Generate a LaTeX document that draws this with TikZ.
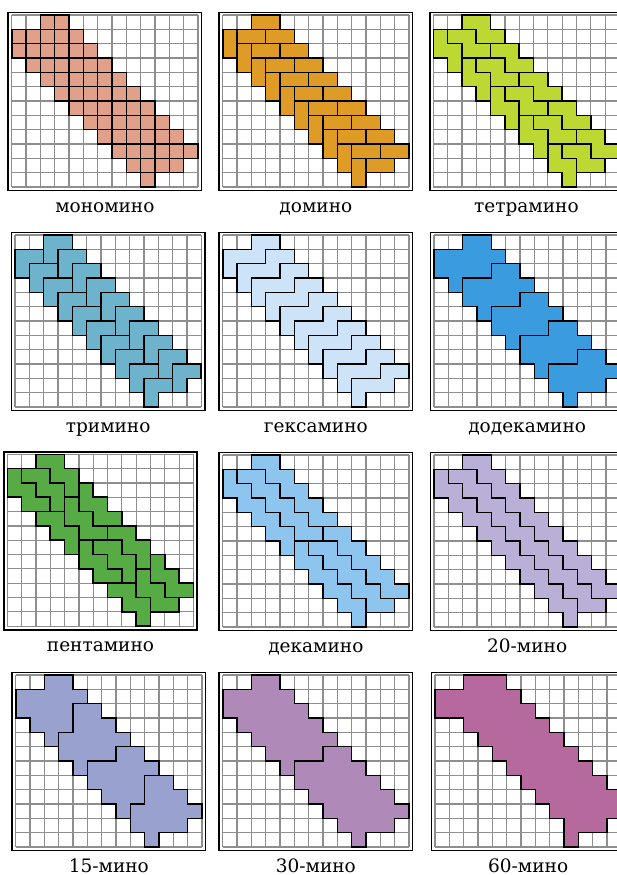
\documentclass[tikz,border=0pt]{standalone}
\usepackage{fontspec}
\setmainfont{DejaVu Serif}

\definecolor{gridgray}{HTML}{8E8E8E}
\definecolor{monoC}{HTML}{E0A08A}
\definecolor{domC}{HTML}{DE9B26}
\definecolor{tetC}{HTML}{BED833}
\definecolor{triC}{HTML}{6CB3CB}
\definecolor{hexC}{HTML}{CDE3F7}
\definecolor{dodC}{HTML}{3A9BDE}
\definecolor{pentC}{HTML}{57AB45}
\definecolor{decC}{HTML}{8DC5EF}
\definecolor{twentyC}{HTML}{BAAFD6}
\definecolor{fifteenC}{HTML}{99A1CF}
\definecolor{thirtyC}{HTML}{AF89B8}
\definecolor{sixtyC}{HTML}{B5699D}

\begin{document}
\begin{tikzpicture}[
    x=1pt, y=-1pt,
    cells at/.style 2 args={shift={(#1,#2)}, x=14.33pt, y=-14.33pt},
    gridline/.style={draw=gridgray, line width=1.1pt},
    frame/.style={draw=black, line width=1.7pt},
    piece/.style={fill=#1, draw=black, line width=1.6pt, line join=miter},
    minoname/.style={anchor=base, inner sep=0.5pt, font=\fontsize{18.5}{20}\selectfont}
]
\useasboundingbox (0,0) rectangle (617,875);
\clip (0,0) rectangle (617,875);

% Grids are listed row by row, left to right.
\foreach \gx/\gy/\name [count=\n] in {
    11.7/15/мономино, 222.7/15/домино, 433.3/15/тетрамино,
    15/235/тримино, 222.7/235/гексамино, 434/235/додекамино,
    7.3/454.3/пентамино, 222.7/455/декамино, 434/455/20-мино,
    15.7/675/15-мино, 222.7/675/30-мино, 435/675/60-мино
}{
    \begin{scope}[cells at={\gx}{\gy}]
        \fill[white] (0,0) rectangle (13,12);
        \foreach \i in {0,...,13}
            \draw[gridline] (\i,0) -- (\i,12);
        \foreach \j in {0,...,12}
            \draw[gridline] (0,\j) -- (13,\j);
        \draw[frame] (-0.24,-0.17) rectangle (13.25,12.25);
        \node[minoname] (name\n) at (6.5,13.75) {\name};
    \end{scope}
}

% мономино
\begin{scope}[cells at={11.7}{15}]
    \foreach \r/\a/\b in {0/2/3, 1/0/4, 2/0/5, 3/1/6, 4/2/7, 5/3/8,
        6/4/9, 7/5/10, 8/6/11, 9/7/12, 10/8/11, 11/9/9}
        \foreach \c in {\a,...,\b}
            \draw[piece=monoC] (\c,\r) rectangle ++(1,1);
\end{scope}

% домино
\begin{scope}[cells at={222.7}{15}]
    \foreach \k in {0,...,9}{
        \draw[piece=domC] (\k+2,\k) rectangle ++(2,1);
        \draw[piece=domC] (\k+1,\k+1) rectangle ++(2,1);
        \draw[piece=domC] (\k,\k+1) rectangle ++(1,2);
    }
\end{scope}

% тетрамино
\begin{scope}[cells at={433.3}{15}]
    \foreach \k in {0,...,4}{
        \foreach \a/\b in {2/0, 1/1}
            \draw[piece=tetC] (2*\k+\a,2*\k+\b) -- ++(2,0) -- ++(0,1)
                -- ++(1,0) -- ++(0,1) -- ++(-2,0) -- ++(0,-1) -- ++(-1,0) -- cycle;
        \draw[piece=tetC] (2*\k,2*\k+1) -- ++(1,0) -- ++(0,1)
            -- ++(1,0) -- ++(0,2) -- ++(-1,0) -- ++(0,-1) -- ++(-1,0) -- cycle;
    }
\end{scope}

% тримино
\begin{scope}[cells at={15}{235}]
    \foreach \k in {0,...,9}
        \foreach \a/\b in {2/0, 0/1}
            \draw[piece=triC] (\k+\a,\k+\b) -- ++(2,0) -- ++(0,1)
                -- ++(-1,0) -- ++(0,1) -- ++(-1,0) -- cycle;
\end{scope}

% гексамино
\begin{scope}[cells at={222.7}{235}]
    \foreach \k in {0,...,9}
        \draw[piece=hexC] (\k+2,\k) -- ++(2,0) -- ++(0,1) -- ++(-1,0)
            -- ++(0,1) -- ++(-2,0) -- ++(0,1) -- ++(-1,0) -- ++(0,-2)
            -- ++(2,0) -- cycle;
\end{scope}

% додекамино
\begin{scope}[cells at={434}{235}]
    \foreach \k in {0,...,4}
        \draw[piece=dodC] (2*\k+2,2*\k) -- ++(2,0) -- ++(0,1) -- ++(1,0)
            -- ++(0,1) -- ++(-1,0) -- ++(0,1) -- ++(-2,0) -- ++(0,1)
            -- ++(-1,0) -- ++(0,-1) -- ++(-1,0) -- ++(0,-2) -- ++(2,0) -- cycle;
\end{scope}

% пентамино
\begin{scope}[cells at={7.3}{454.3}]
    \foreach \a/\b in {2/0, 1/1, 2/4, 7/5, 6/6, 7/9}
        \draw[piece=pentC] (\a,\b) -- ++(2,0) -- ++(0,1) -- ++(1,0)
            -- ++(0,2) -- ++(-1,0) -- ++(0,-1) -- ++(-1,0) -- ++(0,-1)
            -- ++(-1,0) -- cycle;
    \foreach \a/\b in {5/2, 4/3, 0/1, 10/7, 9/8, 5/6}
        \draw[piece=pentC] (\a,\b) -- ++(1,0) -- ++(0,1) -- ++(1,0)
            -- ++(0,1) -- ++(1,0) -- ++(0,1) -- ++(-2,0) -- ++(0,-1)
            -- ++(-1,0) -- cycle;
\end{scope}

% декамино
\begin{scope}[cells at={222.7}{455}]
    \foreach \k in {0,5}{
        \foreach \a/\b in {2/0, 1/1}{
            \begin{scope}[shift={(\a+\k,\b+\k)}]
                \draw[piece=decC] (0,0) \foreach \i in {1,...,5}{ -| (\i+1,\i) }
                    -- (4,5) \foreach \j in {1,...,4}{ |- (4-\j,5-\j) } -- cycle;
            \end{scope}
        }
        \begin{scope}[shift={(\k,\k+1)}]
            \draw[piece=decC] (0,0) \foreach \i in {1,...,5}{ -| (\i,\i) }
                -- (5,6) -- (4,6) \foreach \j in {1,...,4}{ |- (4-\j,6-\j) } -- cycle;
        \end{scope}
    }
\end{scope}

% 20-мино
\begin{scope}[cells at={434}{455}]
    \foreach \a/\b in {2/0, 1/1}{
        \begin{scope}[shift={(\a,\b)}]
            \draw[piece=twentyC] (0,0) \foreach \i in {1,...,10}{ -| (\i+1,\i) }
                -- (9,10) \foreach \j in {1,...,9}{ |- (9-\j,10-\j) } -- cycle;
        \end{scope}
    }
    \begin{scope}[shift={(0,1)}]
        \draw[piece=twentyC] (0,0) \foreach \i in {1,...,10}{ -| (\i,\i) }
            -- (10,11) -- (9,11) \foreach \j in {1,...,9}{ |- (9-\j,11-\j) } -- cycle;
    \end{scope}
\end{scope}

% 15-мино
\begin{scope}[cells at={15.7}{675}]
    \foreach \k in {0,5}{
        \begin{scope}[shift={(\k,\k)}]
            \draw[piece=fifteenC] (2,0) -- (4,0) -- (4,1) -- (5,1) -- (5,2)
                -- (4,2) -- (4,4) -- (3,4) -- (3,5) -- (2,5) -- (2,4)
                -- (1,4) -- (1,3) -- (0,3) -- (0,1) -- (2,1) -- cycle;
            \draw[piece=fifteenC] (4,2) -- (6,2) -- (6,3) -- (7,3) -- (7,4)
                -- (8,4) -- (8,5) -- (7,5) -- (7,6) -- (5,6) -- (5,7)
                -- (4,7) -- (4,6) -- (3,6) -- (3,4) -- (4,4) -- cycle;
        \end{scope}
    }
\end{scope}

% 30-мино
\begin{scope}[cells at={222.7}{675}]
    \foreach \k in {0,5}
        \draw[piece=thirtyC] (\k+2,\k) -- ++(2,0) -- ++(0,1) -- ++(1,0)
            -- ++(0,1) -- ++(1,0) -- ++(0,1) -- ++(1,0) -- ++(0,1)
            -- ++(1,0) -- ++(0,1) -- ++(-1,0) -- ++(0,1) -- ++(-2,0)
            -- ++(0,1) -- ++(-1,0) -- ++(0,-1) -- ++(-1,0) -- ++(0,-1)
            -- ++(-1,0) -- ++(0,-1) -- ++(-1,0) -- ++(0,-1) -- ++(-1,0)
            -- ++(0,-2) -- ++(2,0) -- cycle;
\end{scope}

% 60-мино
\begin{scope}[cells at={435}{675}]
    \draw[piece=sixtyC] (2,0) -- (4,0) \foreach \i in {1,...,9}{ -| (\i+4,\i) }
        -| (13,10) -- (12,10) -- (12,11) -- (10,11) -- (10,12) -- (9,12)
        -- (9,11) \foreach \j in {1,...,8}{ |- (9-\j,11-\j) }
        -- (0,3) -- (0,1) -- (2,1) -- cycle;
\end{scope}
\end{tikzpicture}
\end{document}
